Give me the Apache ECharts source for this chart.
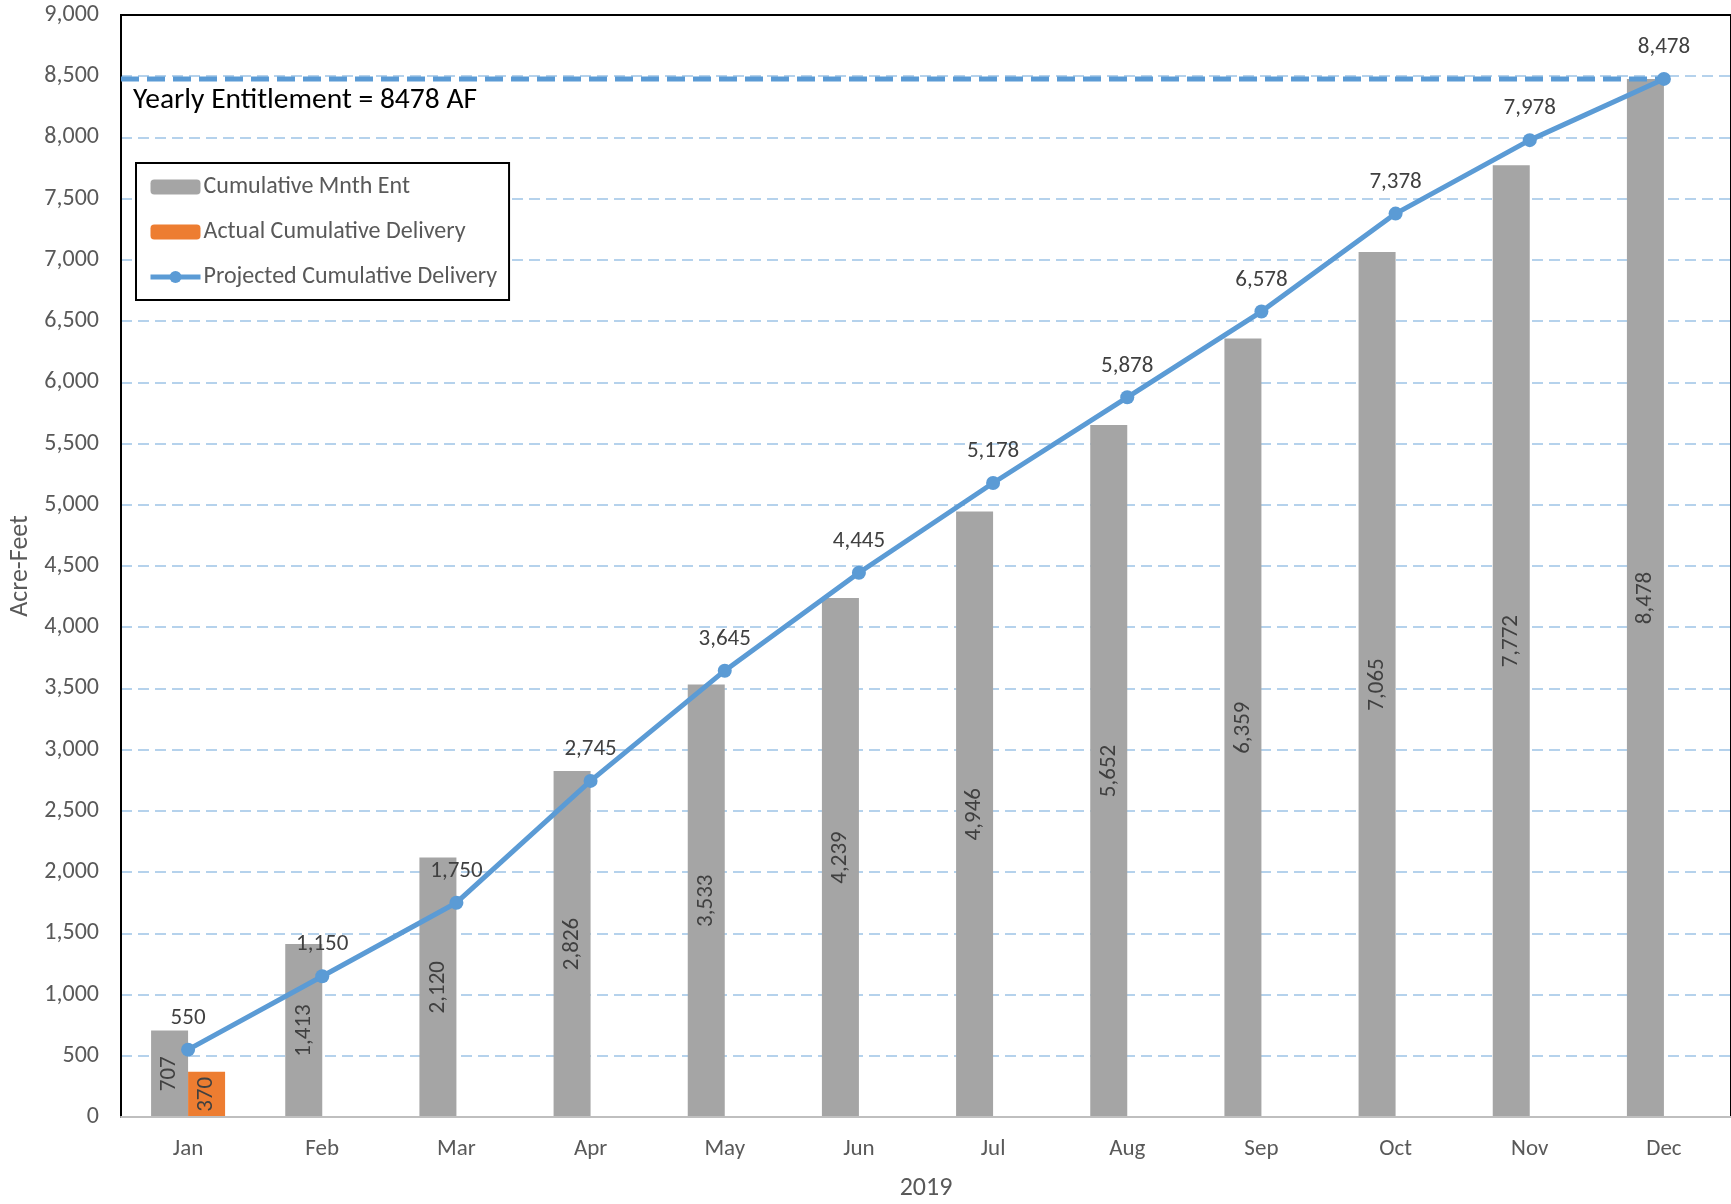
<!DOCTYPE html>
<html>
<head>
<meta charset="utf-8">
<script src="https://cdn.jsdelivr.net/npm/echarts@6/dist/echarts.min.js"></script>
<style>
  html, body { margin: 0; padding: 0; background: #fff; }
  #chart { width: 1731px; height: 1204px; }
</style>
</head>
<body>
<div id="chart"></div>
<script>
// Monthly categories for the 2019 water year
const months = ['Jan', 'Feb', 'Mar', 'Apr', 'May', 'Jun', 'Jul', 'Aug', 'Sep', 'Oct', 'Nov', 'Dec'];
// Cumulative monthly entitlement (acre-feet)
const cumulativeMonthEnt = [707, 1413, 2120, 2826, 3533, 4239, 4946, 5652, 6359, 7065, 7772, 8478];
// Actual cumulative delivery recorded so far
const actualDelivery = [370, null, null, null, null, null, null, null, null, null, null, null];
// Projected cumulative delivery
const projectedDelivery = [550, 1150, 1750, 2745, 3645, 4445, 5178, 5878, 6578, 7378, 7978, 8478];
// Yearly entitlement in acre-feet
const yearlyEntitlement = 8478;
// Value axis range
const yMin = 0, yMax = 9000, yStep = 500;

const FONT = 'Carlito, Lato, "Noto Sans", sans-serif';
const TEXT = '#595959';
const LABEL = '#404040';
const BLUE = '#5B9BD5';
const fmt = v => Number(v).toLocaleString('en-US');

// Entitlement reference line runs from the left edge of the plot to the last month's centre
const entitlementLine = [[0, yearlyEntitlement], [months.length - 0.5, yearlyEntitlement]];

const chart = echarts.init(document.getElementById('chart'));
chart.setOption({
  animation: false,
  textStyle: { fontFamily: FONT },
  grid: {
    left: 121, top: 15, right: 0, bottom: 87,
    outerBoundsMode: 'none',
    show: true, borderColor: '#000', borderWidth: 2, backgroundColor: 'transparent'
  },
  legend: {
    orient: 'vertical',
    left: 136, top: 163,
    data: [
      { name: 'Cumulative Mnth Ent' },
      { name: 'Actual Cumulative Delivery' },
      { name: 'Projected Cumulative Delivery', lineStyle: { width: 5 } }
    ],
    backgroundColor: '#fff',
    borderColor: '#000', borderWidth: 2, borderRadius: 0,
    padding: [12, 12, 11, 12],
    itemWidth: 50, itemHeight: 15, itemGap: 21,
    textStyle: { color: TEXT, fontSize: 24, fontFamily: FONT, padding: [0, 0, 0, -2] }
  },
  xAxis: [{
    type: 'category',
    data: months,
    boundaryGap: true,
    axisLine: { lineStyle: { color: '#BFBFBF', width: 2 } },
    axisTick: { show: false },
    axisLabel: { color: TEXT, fontSize: 23, margin: 21, fontFamily: FONT },
    name: '2019', nameLocation: 'middle', nameGap: 58,
    nameTextStyle: { color: TEXT, fontSize: 26, fontFamily: FONT },
    z: 5
  }, {
    type: 'value', min: 0, max: months.length, show: false
  }],
  yAxis: {
    type: 'value',
    min: yMin, max: yMax, interval: yStep,
    axisLine: { show: true, lineStyle: { color: '#000', width: 2 } },
    axisTick: { show: false },
    axisLabel: { color: TEXT, fontSize: 24, margin: 22, formatter: fmt, fontFamily: FONT },
    splitLine: {
      show: true, showMinLine: false, showMaxLine: false,
      lineStyle: { color: '#9DC3E6', width: 1.5, type: [11, 6] }
    },
    name: 'Acre-Feet', nameLocation: 'middle', nameGap: 88,
    nameTextStyle: { color: TEXT, fontSize: 26, fontFamily: FONT }
  },
  series: [
    {
      name: 'Cumulative Mnth Ent',
      type: 'bar',
      data: cumulativeMonthEnt,
      barWidth: 37, barGap: '0%',
      itemStyle: { color: '#A5A5A5' },
      label: {
        show: true, position: 'inside', rotate: 90,
        color: LABEL, fontSize: 23, fontFamily: FONT,
        formatter: p => fmt(p.value)
      }
    },
    {
      name: 'Actual Cumulative Delivery',
      type: 'bar',
      data: actualDelivery,
      barWidth: 37, barGap: '0%',
      itemStyle: { color: '#ED7D31' },
      label: {
        show: true, position: 'inside', rotate: 90,
        color: LABEL, fontSize: 23, fontFamily: FONT,
        formatter: p => fmt(p.value)
      }
    },
    {
      name: 'Entitlement',
      type: 'line',
      xAxisIndex: 1,
      data: entitlementLine,
      symbol: 'none',
      lineStyle: { color: BLUE, width: 5, type: [18, 8] },
      silent: true,
      z: 3
    },
    {
      name: 'Projected Cumulative Delivery',
      type: 'line',
      data: projectedDelivery,
      symbol: 'circle', symbolSize: 14,
      itemStyle: { color: BLUE },
      lineStyle: { color: BLUE, width: 5 },
      label: {
        show: true, position: 'top', distance: 13,
        color: LABEL, fontSize: 23, fontFamily: FONT,
        formatter: p => fmt(p.value)
      },
      z: 4
    }
  ],
  graphic: [{
    type: 'text',
    left: 133, top: 86,
    style: {
      text: 'Yearly Entitlement = ' + yearlyEntitlement + ' AF',
      fill: '#000', fontSize: 29.5, fontFamily: FONT
    },
    z: 10
  }]
});
</script>
</body>
</html>
